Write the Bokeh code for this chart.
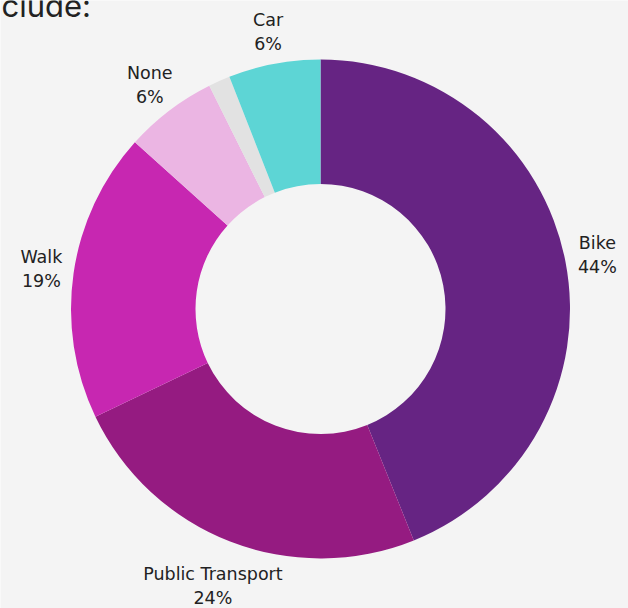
import math
from bokeh.plotting import figure
from bokeh.models import Range1d, ColumnDataSource
from bokeh.core.properties import value
from bokeh.embed import file_html
from bokeh.resources import INLINE

# data (clockwise from 12 o'clock)
categories = ["Bike", "Public Transport", "Walk", "None", "Other", "Car"]
shares = [43.9, 24.0, 18.75, 6.0, 1.4, 5.95]
labels = ["Bike\n44%", "Public Transport\n24%", "Walk\n19%", "None\n6%", "", "Car\n6%"]
colors = ["#662483", "#951b81", "#c727b1", "#ebb5e3", "#e2e2e2", "#5dd5d5"]

W, H = 628, 608
BG = "#f4f4f4"
cx, cy = 320, H - 308.5
R_OUT, R_IN = 249.5, 125

total = sum(shares)
starts, ends, lx, ly = [], [], [], []
acc = 0.0
for s in shares:
    t0 = acc / total * 2 * math.pi
    acc += s
    t1 = acc / total * 2 * math.pi
    starts.append(math.pi / 2 - t0)
    ends.append(math.pi / 2 - t1)
    tm = (t0 + t1) / 2
    r = 282 + 16 * max(0.0, -math.cos(tm))
    lx.append(cx + r * math.sin(tm))
    ly.append(cy + r * math.cos(tm))

src = ColumnDataSource(dict(start=starts, end=ends, color=colors, lx=lx, ly=ly, label=labels))

p = figure(width=W, height=H, output_backend="svg", toolbar_location=None,
           x_range=Range1d(0, W), y_range=Range1d(0, H), min_border=0)
p.axis.visible = False
p.grid.visible = False
p.outline_line_color = None
p.background_fill_color = BG
p.border_fill_color = BG

p.annular_wedge(x=cx, y=cy, inner_radius=R_IN, outer_radius=R_OUT,
                start_angle="start", end_angle="end", direction="clock",
                fill_color="color", line_color=None, source=src)

p.text(x="lx", y="ly", text="label", source=src, text_align="center",
       text_baseline="middle", text_font=value("DejaVu Sans"), text_font_size="17.5px",
       text_color="#222222", text_line_height=1.2)

p.text(x=[1], y=[H - 5], text=["clude:"], text_align="left", text_baseline="alphabetic",
       text_font=value("Inter"), text_font_size="31px", text_color="#222222")

open("out.html", "w").write(file_html(p, INLINE))
